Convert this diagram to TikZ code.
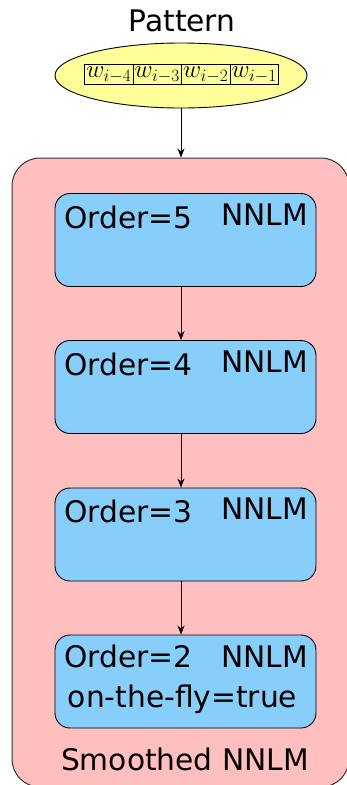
\documentclass[tikz,border=0pt]{standalone}
\usepackage{fontspec}
\setmainfont{DejaVu Sans}
\usetikzlibrary{shapes.geometric,arrows.meta}
\definecolor{patyellow}{RGB}{255,255,153}
\definecolor{outerpink}{RGB}{255,191,191}
\definecolor{innerblue}{RGB}{135,206,250}
\newcommand{\wbox}[1]{\fbox{$w_{i-#1}$}}
\tikzset{
  lbl/.style={font=\fontsize{29.7}{34}\selectfont, inner sep=0pt},
  stagebox/.style={draw=black, line width=0.9pt, fill=innerblue, rounded corners=15pt, minimum width=261pt, minimum height=93pt, inner sep=0pt},
  arr/.style={-{Stealth[length=9pt,width=7pt]}, line width=0.9pt},
}
\begin{document}
\begin{tikzpicture}[x=1pt,y=-1pt]
\useasboundingbox (0,0) rectangle (347,785);
% outer box
\begin{scope}
\clip (0,0) rectangle (347,785);
\node[draw=black!80, line width=1pt, fill=outerpink, rounded corners=28pt, minimum width=337pt, minimum height=629pt, inner sep=0pt] (outer) at (180.5,472.5) {};
\end{scope}
% pattern
\node[lbl, anchor=base] (ptitle) at (182,31) {Pattern};
\node[ellipse, draw=black, line width=0.9pt, fill=patyellow, minimum width=252pt, minimum height=65pt, inner sep=0pt] (pattern) at (181,75.5) {};
\node[inner sep=0pt] (words) at (181.5,74.5)
  {\fontsize{26.5}{29}\selectfont\setlength{\fboxsep}{1.3pt}\setlength{\fboxrule}{0.8pt}\wbox{4}\hspace{-0.8pt}\wbox{3}\hspace{-0.8pt}\wbox{2}\hspace{-0.8pt}\wbox{1}};
% stage boxes
\node[stagebox] (b5) at (185.5,240) {};
\node[stagebox] (b4) at (185.5,387) {};
\node[stagebox] (b3) at (185.5,534.5) {};
\node[stagebox] (b2) at (185.5,681.5) {};
% labels
\node[lbl, anchor=base west] (o5) at (64,228) {Order=5};
\node[lbl, anchor=base east] (n5) at (308,225) {NNLM};
\node[lbl, anchor=base west] (o4) at (64,375) {Order=4};
\node[lbl, anchor=base east] (n4) at (308,372) {NNLM};
\node[lbl, anchor=base west] (o3) at (64,522) {Order=3};
\node[lbl, anchor=base east] (n3) at (308,519) {NNLM};
\node[lbl, anchor=base west] (o2) at (64,667) {Order=2};
\node[lbl, anchor=base east] (n2) at (308,667) {NNLM};
\node[lbl, anchor=base] (fly) at (182.5,707) {on-the-fly=true};
\node[lbl, anchor=base] (smooth) at (185,770) {Smoothed NNLM};
% arrows
\draw[arr] (pattern.south) -- (pattern.south |- outer.north);
\draw[arr] (b5.south -| pattern.south) -- (b4.north -| pattern.south);
\draw[arr] (b4.south -| pattern.south) -- (b3.north -| pattern.south);
\draw[arr] (b3.south -| pattern.south) -- (b2.north -| pattern.south);
\end{tikzpicture}
\end{document}
